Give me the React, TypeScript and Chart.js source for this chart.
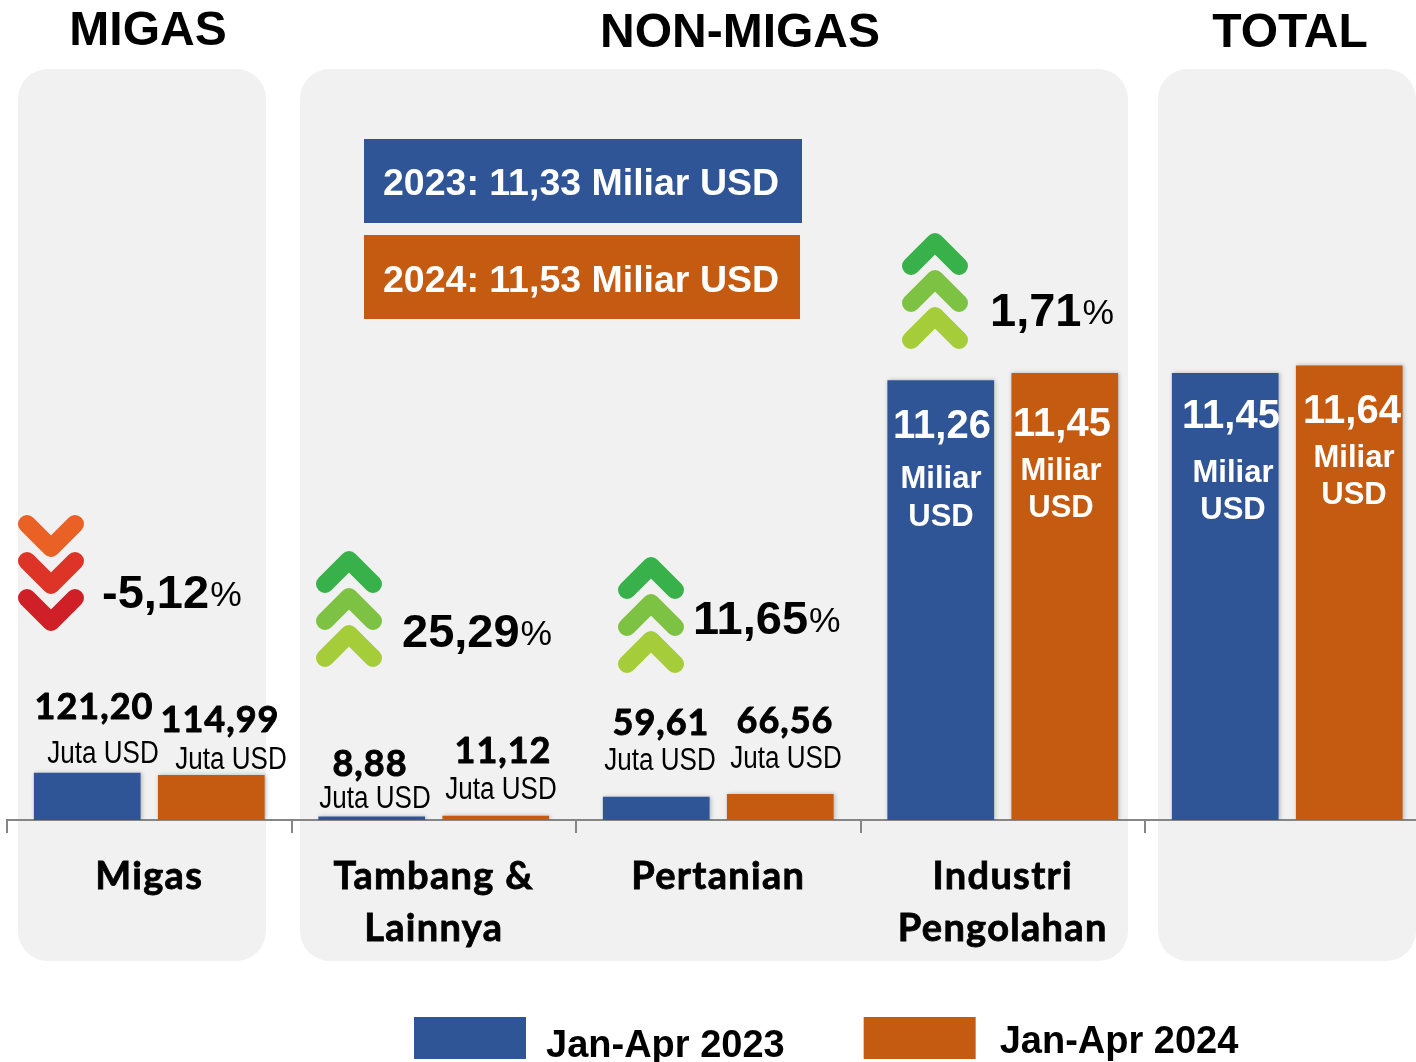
import React, { useEffect, useRef } from "react";
import { Chart, registerables } from "chart.js";

Chart.register(...registerables);

const categories: (string | string[])[] = ["Migas", ["Tambang &", "Lainnya"], "Pertanian", ["Industri", "Pengolahan"], ""];
const seriesNames = ["Jan-Apr 2023", "Jan-Apr 2024"];
// Plotted heights (the source chart plots the Juta USD figures at ten times their value)
const values2023 = [1212, 88.8, 596.1, 11260, 11450];
const values2024 = [1149.9, 111.2, 665.6, 11450, 11640];
const valueLabels2023 = ["121,20", "8,88", "59,61", "11,26", "11,45"];
const valueLabels2024 = ["114,99", "11,12", "66,56", "11,45", "11,64"];
const unitSmall = "Juta USD";
const unitBigTop = "Miliar";
const unitBigBottom = "USD";
const changeLabels = ["-5,12", "25,29", "11,65", "1,71"];
const sectionTitles = ["MIGAS", "NON-MIGAS", "TOTAL"];
const summaryLabels = ["2023: 11,33 Miliar USD", "2024: 11,53 Miliar USD"];

const BLUE = "#2f5597";
const ORANGE = "#c55a11";
const PANEL = "#f1f1f1";
const AXIS = "#868686";
const SANS = '"Liberation Sans", Arial, sans-serif';
const HUMAN = 'Lato, "Open Sans", sans-serif';

const panels = [
  [18, 69, 248, 892],
  [300, 69, 828, 892],
  [1158, 69, 258, 892],
];
const titlePos = [[148, 45], [740, 47], [1290, 47]];
const smallValuePos2023 = [[94, 719], [370, 776], [661, 735]];
const smallValuePos2024 = [[220, 732], [503, 763], [785, 733]];
const smallUnitPos2023 = [[103, 763], [375, 808], [660, 770]];
const smallUnitPos2024 = [[231, 769], [501, 799], [786, 768]];
const bigPos2023 = [[942, 438, 941, 488, 526], [1231, 428, 1233, 482, 519]];
const bigPos2024 = [[1062, 436, 1061, 480, 517], [1352, 423, 1354, 467, 504]];
const changePos = [[102, 608], [402, 647], [693, 634], [990, 326]];
const chevronPos: [number, number, boolean][] = [[51, 515, false], [349, 551, true], [651, 557, true], [935, 233, true]];
const upColors = ["#39b14b", "#7dc242", "#a5cd39"];
const downColors = ["#e96125", "#dd3427", "#cf2027"];
const legendTextShift = [[1, 9], [5, 5]];

function text(
  ctx: CanvasRenderingContext2D,
  s: string,
  x: number,
  y: number,
  font: string,
  color: string,
  align: CanvasTextAlign = "center",
  spacing = 0,
  stretch = 1,
  stroke = 0
) {
  ctx.save();
  ctx.translate(x, y);
  ctx.scale(stretch, 1);
  ctx.font = font;
  ctx.fillStyle = color;
  ctx.textAlign = align;
  ctx.textBaseline = "alphabetic";
  (ctx as any).letterSpacing = spacing + "px";
  ctx.fillText(s, 0, 0);
  if (stroke > 0) {
    ctx.strokeStyle = color;
    ctx.lineWidth = stroke;
    ctx.lineJoin = "round";
    ctx.strokeText(s, 0, 0);
  }
  ctx.restore();
}

function chevron(ctx: CanvasRenderingContext2D, cx: number, top: number, up: boolean, color: string) {
  const apex = up ? top + 9 : top + 33;
  const end = up ? top + 33 : top + 9;
  ctx.beginPath();
  ctx.moveTo(cx - 24, end);
  ctx.lineTo(cx, apex);
  ctx.lineTo(cx + 24, end);
  ctx.strokeStyle = color;
  ctx.lineWidth = 18;
  ctx.lineCap = "round";
  ctx.lineJoin = "round";
  ctx.stroke();
}

const decorations = {
  id: "decorations",
  beforeDraw(chart: any) {
    const ctx: any = chart.ctx;
    ctx.save();
    ctx.fillStyle = PANEL;
    panels.forEach(([x, y, w, h]) => {
      ctx.beginPath();
      ctx.roundRect(x, y, w, h, 30);
      ctx.fill();
    });
    ctx.restore();
    // place the legend as in the reference
    const legend = chart.legend;
    const pad = legend.options.labels.padding;
    legend.left = 414 - pad;
    legend.right = 1440;
    legend.top = 1017 - pad;
    if (!legend.__wrapped) {
      legend.__wrapped = true;
      const draw = legend.draw;
      legend.draw = function () {
        const proto = CanvasRenderingContext2D.prototype.fillText;
        ctx.fillText = function (s: string, x: number, y: number) {
          const k = seriesNames.indexOf(s);
          const sh = legendTextShift[k < 0 ? 0 : k];
          proto.call(ctx, s, x + sh[0], y + sh[1]);
        };
        draw.call(legend);
        delete ctx.fillText;
      };
      const xs = chart.scales.x;
      const drawLabels = xs.drawLabels;
      xs.drawLabels = function (area: any) {
        ctx.letterSpacing = "1.3px";
        drawLabels.call(xs, area);
        ctx.letterSpacing = "0px";
      };
    }
  },
  beforeDatasetDraw(chart: any) {
    const ctx = chart.ctx;
    ctx.save();
    ctx.shadowColor = "rgba(0,0,0,0.25)";
    ctx.shadowBlur = 4;
    ctx.shadowOffsetX = 1;
    ctx.shadowOffsetY = 0;
  },
  afterDatasetDraw(chart: any) {
    chart.ctx.restore();
  },
  afterDraw(chart: any) {
    const ctx: CanvasRenderingContext2D = chart.ctx;
    ctx.save();
    sectionTitles.forEach((t, i) => text(ctx, t, titlePos[i][0], titlePos[i][1], `bold 48px ${SANS}`, "#000"));

    ctx.fillStyle = BLUE;
    ctx.fillRect(364, 139, 438, 84);
    ctx.fillStyle = ORANGE;
    ctx.fillRect(364, 235, 436, 84);
    text(ctx, summaryLabels[0], 383, 195, `bold 37.5px ${SANS}`, "#fff", "left");
    text(ctx, summaryLabels[1], 383, 292, `bold 37.5px ${SANS}`, "#fff", "left");

    [0, 1, 2].forEach((i) => {
      text(ctx, valueLabels2023[i], smallValuePos2023[i][0], smallValuePos2023[i][1], `bold 36px ${HUMAN}`, "#000", "center", 1, 1, 0.9);
      text(ctx, valueLabels2024[i], smallValuePos2024[i][0], smallValuePos2024[i][1], `bold 36px ${HUMAN}`, "#000", "center", 1, 1, 0.9);
      text(ctx, unitSmall, smallUnitPos2023[i][0], smallUnitPos2023[i][1], `31px ${SANS}`, "#000", "center", 0, 0.84);
      text(ctx, unitSmall, smallUnitPos2024[i][0], smallUnitPos2024[i][1], `31px ${SANS}`, "#000", "center", 0, 0.84);
    });
    [0, 1].forEach((i) => {
      const a = bigPos2023[i];
      const b = bigPos2024[i];
      [[valueLabels2023[3 + i], a], [valueLabels2024[3 + i], b]].forEach(([label, p]: any) => {
        text(ctx, label, p[0], p[1], `bold 40px ${SANS}`, "#fff");
        text(ctx, unitBigTop, p[2], p[3], `bold 31px ${SANS}`, "#fff");
        text(ctx, unitBigBottom, p[2], p[4], `bold 31px ${SANS}`, "#fff");
      });
    });

    chevronPos.forEach(([cx, top, up]) => {
      const colors = up ? upColors : downColors;
      colors.forEach((c, k) => chevron(ctx, cx, top + k * 37, up, c));
    });
    changeLabels.forEach((label, i) => {
      const [x, y] = changePos[i];
      text(ctx, label, x, y, `bold 47px ${SANS}`, "#000", "left");
      ctx.font = `bold 47px ${SANS}`;
      const w = ctx.measureText(label).width;
      text(ctx, "%", x + w + 1, y - 2, `35.5px ${SANS}`, "#000", "left");
    });
    ctx.restore();
  },
};

export default function App() {
  const ref = useRef<HTMLCanvasElement>(null);
  useEffect(() => {
    if (!ref.current) return;
    const chart = new Chart(ref.current, {
      type: "bar",
      data: {
        labels: categories as any,
        datasets: [
          { label: seriesNames[0], data: values2023, backgroundColor: BLUE, categoryPercentage: 0.872, barPercentage: 0.86 },
          { label: seriesNames[1], data: values2024, backgroundColor: ORANGE, categoryPercentage: 0.872, barPercentage: 0.86 },
        ],
      },
      options: {
        responsive: false,
        animation: false,
        layout: { padding: { left: 7, right: 10.5, top: 0, bottom: 0 } },
        plugins: {
          tooltip: { enabled: false },
          legend: {
            position: "bottom",
            align: "start",
            maxHeight: 1,
            labels: {
              boxWidth: 112,
              boxHeight: 42,
              padding: 80,
              color: "#000",
              font: { family: SANS, size: 38, weight: "bold" },
            },
          },
        },
        scales: {
          x: {
            afterFit(scale: any) {
              scale.height = 241;
            },
            grid: { drawOnChartArea: false, color: AXIS, tickColor: AXIS, tickLength: 13, tickWidth: 2, lineWidth: 2 },
            border: { color: AXIS, width: 2 },
            ticks: {
              color: "#000",
              autoSkip: false,
              maxRotation: 0,
              padding: 18,
              textStrokeColor: "#000",
              textStrokeWidth: 0.8,
              font: { family: HUMAN, size: 38, weight: "bold", lineHeight: 1.37 },
            },
          },
          y: { display: false, min: 0, max: 21000 },
        },
      },
      plugins: [decorations],
    } as any);
    return () => chart.destroy();
  }, []);
  return (
    <div style={{ position: "fixed", left: 0, top: 0, width: 1416, height: 1062, overflow: "hidden", background: "#fff" }}>
      <canvas ref={ref} width={1440} height={1062} style={{ display: "block" }} />
    </div>
  );
}
